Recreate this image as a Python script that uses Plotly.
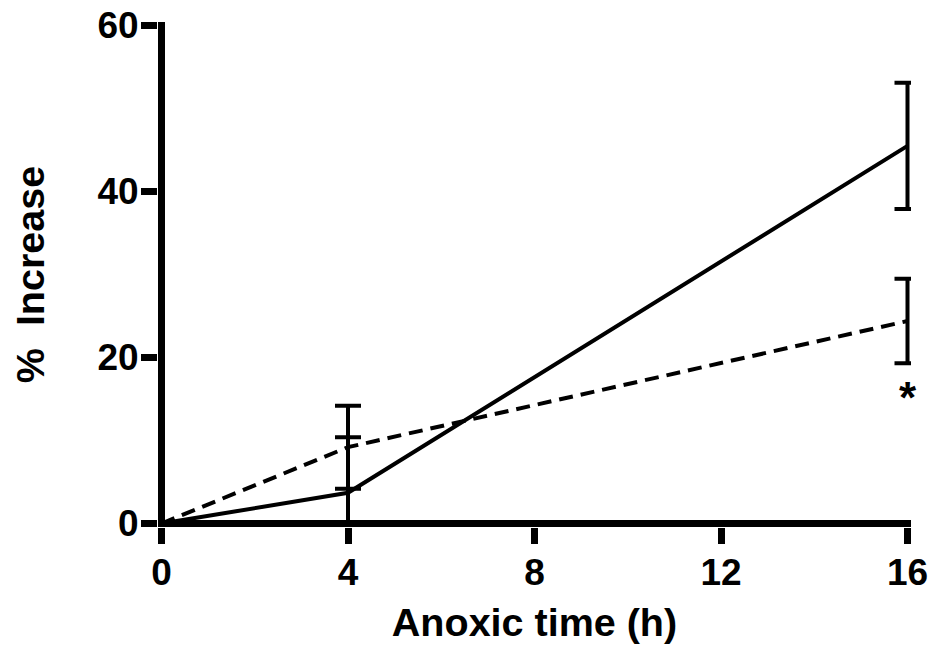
import plotly.graph_objects as go

# Data
time_h = [0, 4, 16]
solid_vals = [0, 3.7, 45.5]
solid_err_plus = [0, 6.7, 7.6]
solid_err_minus = [0, 3.7, 7.6]   # lower bar at 4 h is cut at the x axis
dashed_vals = [0, 9.2, 24.4]
dashed_err = [0, 5.0, 5.1]

x_ticks = [0, 4, 8, 12, 16]
y_ticks = [0, 20, 40, 60]

FONT = "Liberation Sans, Arial, sans-serif"

fig = go.Figure()

fig.add_trace(go.Scatter(
    x=time_h, y=dashed_vals, mode="lines",
    line=dict(color="black", width=4, dash="14px,8px"),
    error_y=dict(type="data", array=dashed_err, visible=True,
                 color="black", thickness=4, width=13),
    cliponaxis=False, showlegend=False,
))
fig.add_trace(go.Scatter(
    x=time_h, y=solid_vals, mode="lines",
    line=dict(color="black", width=4),
    error_y=dict(type="data", array=solid_err_plus, arrayminus=solid_err_minus,
                 symmetric=False, visible=True,
                 color="black", thickness=4, width=13),
    cliponaxis=False, showlegend=False,
))

fig.add_annotation(
    x=16, y=15.2, xref="x", yref="y", text="<b>*</b>", showarrow=False,
    font=dict(family=FONT, size=44, color="black"),
)

fig.update_layout(
    width=930, height=650,
    margin=dict(l=158, r=19, t=22, b=123),
    paper_bgcolor="white", plot_bgcolor="white",
    font=dict(family=FONT, color="black"),
)
fig.update_xaxes(
    range=[-0.075, 16.075], tickmode="array", tickvals=x_ticks,
    ticktext=[str(v) for v in x_ticks], automargin=False,
    showgrid=False, showline=False,
    zeroline=True, zerolinecolor="black", zerolinewidth=7,
    ticks="outside", ticklen=16, tickwidth=7, tickcolor="black",
    ticklabelstandoff=-3,
    tickfont=dict(family=FONT, size=37, color="black", weight="bold"),
    title=dict(text="Anoxic time (h)",
               font=dict(family=FONT, size=39.5, color="black", weight="bold"),
               standoff=15),
)
fig.update_yaxes(
    range=[-0.42, 60.42], tickmode="array", tickvals=y_ticks,
    ticktext=[str(v) for v in y_ticks], automargin=False,
    showgrid=False, showline=False,
    zeroline=True, zerolinecolor="black", zerolinewidth=7,
    ticks="outside", ticklen=16, tickwidth=7, tickcolor="black",
    ticklabelstandoff=-5,
    tickfont=dict(family=FONT, size=37, color="black", weight="bold"),
    title=dict(text="%\u00a0\u00a0Increase\u2002",
               font=dict(family=FONT, size=39.5, color="black", weight="bold"),
               standoff=40),
)

fig.write_html("out.html")
